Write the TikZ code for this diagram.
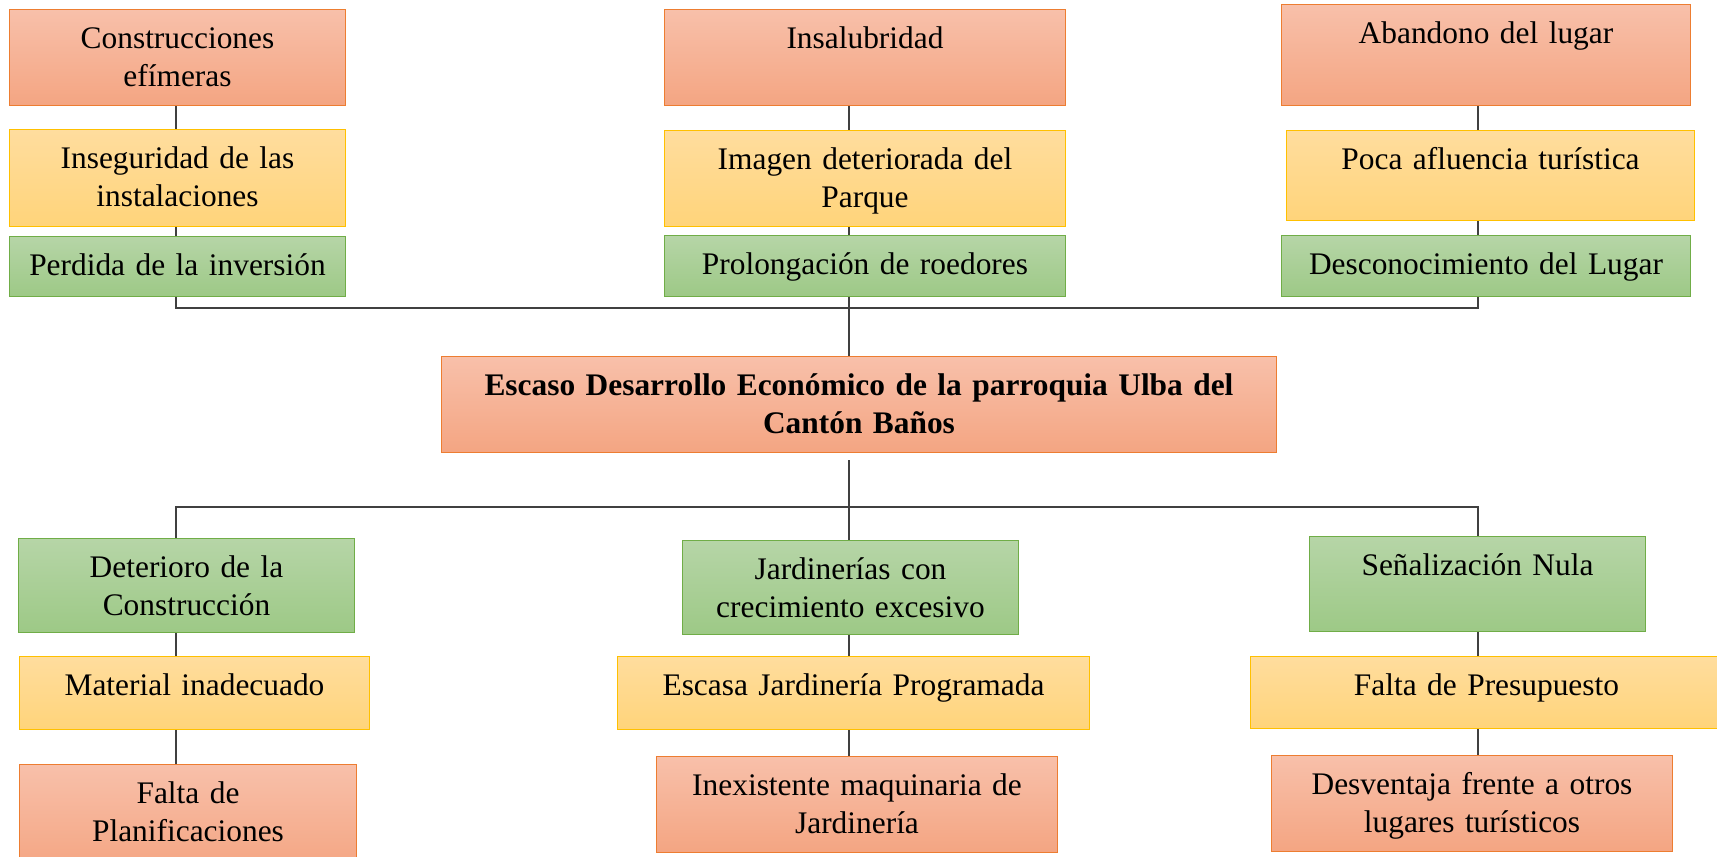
\documentclass[tikz,border=0pt]{standalone}
\usepackage{fontspec}
\setmainfont{Liberation Serif}

\definecolor{rojoarriba}{RGB}{248,192,170}
\definecolor{rojoabajo}{RGB}{244,165,130}
\definecolor{rojoborde}{HTML}{ED7D31}
\definecolor{amarilloarriba}{RGB}{255,221,158}
\definecolor{amarilloabajo}{RGB}{255,212,122}
\definecolor{amarilloborde}{HTML}{FFC000}
\definecolor{verdearriba}{RGB}{182,213,167}
\definecolor{verdeabajo}{RGB}{157,201,134}
\definecolor{verdeborde}{HTML}{70AD47}

\tikzset{
  caja/.style 2 args={anchor=north west, inner sep=0pt, line width=1pt,
    text width=#1pt, align=center, text height=39pt, text depth=#2pt,
    font=\fontsize{31.4}{38}\selectfont},
  roja/.style={draw=rojoborde, top color=rojoarriba, bottom color=rojoabajo},
  amarilla/.style={draw=amarilloborde, top color=amarilloarriba, bottom color=amarilloabajo},
  verde/.style={draw=verdeborde, top color=verdearriba, bottom color=verdeabajo},
  linea/.style={draw=black!75, line width=1.2pt}
}

\begin{document}
\begin{tikzpicture}[x=1pt, y=-1pt]
  \useasboundingbox (0,0) rectangle (1717,857);

  % efectos
  \node [caja={336}{57}, roja] (r1) at (9,9) {Construcciones\\efímeras};
  \node [caja={336}{58}, amarilla] (y1) at (9,129) {Inseguridad de las\\instalaciones};
  \node [caja={336}{21}, verde] (g1) at (9,236) {Perdida de la inversión};

  \node [caja={401}{57}, roja] (r2) at (664,9) {Insalubridad};
  \node [caja={401}{57}, amarilla] (y2) at (664,130) {Imagen deteriorada del\\Parque};
  \node [caja={401}{22}, verde] (g2) at (664,235) {Prolongación de roedores};

  \node [caja={409}{62}, roja] (r3) at (1281,4) {Abandono del lugar};
  \node [caja={408}{51}, amarilla] (y3) at (1286,130) {Poca afluencia turística};
  \node [caja={409}{22}, verde] (g3) at (1281,235) {Desconocimiento del Lugar};

  % problema central
  \node [caja={835}{57}, roja, font=\fontsize{31.4}{38}\selectfont\bfseries] (main) at (441,356)
    {Escaso Desarrollo Económico de la parroquia Ulba del\\Cantón Baños};

  % causas
  \node [caja={336}{55}, verde] (gL) at (18,538) {Deterioro de la\\Construcción};
  \node [caja={350}{34}, amarilla] (yL) at (19,656) {Material inadecuado};
  \node [caja={337}{67}, roja] (rL) at (19,764) {Falta de\\Planificaciones};

  \node [caja={336}{55}, verde] (gM) at (682,540) {Jardinerías con\\crecimiento excesivo};
  \node [caja={472}{34}, amarilla] (yM) at (617,656) {Escasa Jardinería Programada};
  \node [caja={401}{57}, roja] (rM) at (656,756) {Inexistente maquinaria de\\Jardinería};

  \node [caja={336}{56}, verde] (gR) at (1309,536) {Señalización Nula};
  \node [caja={472}{33}, amarilla] (yR) at (1250,656) {Falta de Presupuesto};
  \node [caja={401}{57}, roja] (rR) at (1271,755) {Desventaja frente a otros\\lugares turísticos};

  \coordinate (ejeI) at (176,0);
  \coordinate (ejeC) at (849,0);
  \coordinate (ejeD) at (1478,0);
  \coordinate (busA) at (0,308);
  \coordinate (busB) at (0,507);

  \begin{scope}[linea]
    \draw (r1.south -| ejeI) -- (y1.north -| ejeI);
    \draw (y1.south -| ejeI) -- (g1.north -| ejeI);
    \draw (r2.south -| ejeC) -- (y2.north -| ejeC);
    \draw (y2.south -| ejeC) -- (g2.north -| ejeC);
    \draw (r3.south -| ejeD) -- (y3.north -| ejeD);
    \draw (y3.south -| ejeD) -- (g3.north -| ejeD);
    \draw (g1.south -| ejeI) -- (ejeI |- busA) -- (ejeD |- busA) -- (g3.south -| ejeD);
    \draw (g2.south -| ejeC) -- (main.north -| ejeC);

    \draw [shorten <=7pt] (main.south -| ejeC) -- (ejeC |- busB);
    \draw (gL.north -| ejeI) -- (ejeI |- busB) -- (ejeD |- busB) -- (gR.north -| ejeD);
    \draw (ejeC |- busB) -- (gM.north -| ejeC);

    \draw (gL.south -| ejeI) -- (yL.north -| ejeI);
    \draw (yL.south -| ejeI) -- (rL.north -| ejeI);
    \draw (gM.south -| ejeC) -- (yM.north -| ejeC);
    \draw (yM.south -| ejeC) -- (rM.north -| ejeC);
    \draw (gR.south -| ejeD) -- (yR.north -| ejeD);
    \draw (yR.south -| ejeD) -- (rR.north -| ejeD);
  \end{scope}
\end{tikzpicture}
\end{document}
